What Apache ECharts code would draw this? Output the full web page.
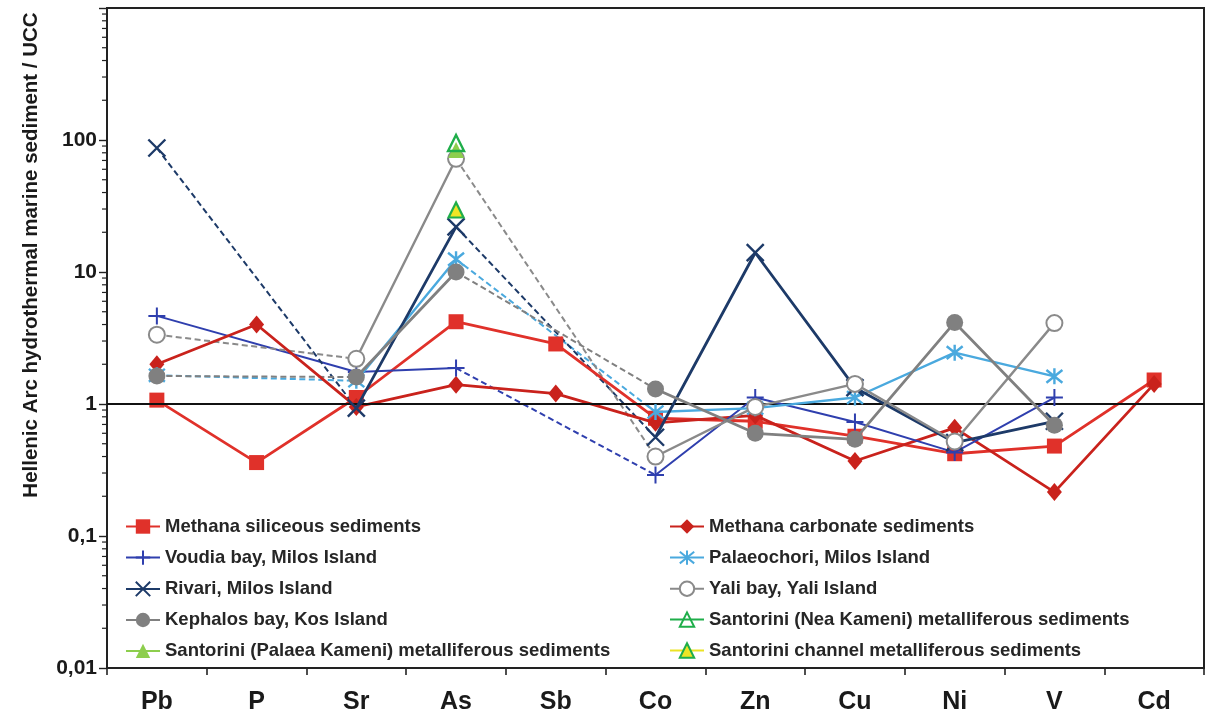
<!DOCTYPE html>
<html>
<head>
<meta charset="utf-8">
<script src="https://cdn.jsdelivr.net/npm/echarts@6/dist/echarts.min.js"></script>
<style>
  html, body { margin: 0; padding: 0; background: #fff; }
  #chart { width: 1206px; height: 715px; }
</style>
</head>
<body>
<div id="chart"></div>
<script>
// Elements normalised to upper continental crust (UCC)
const elements = ['Pb', 'P', 'Sr', 'As', 'Sb', 'Co', 'Zn', 'Cu', 'Ni', 'V', 'Cd'];

const methanaSiliceous = [1.07, 0.36, 1.12, 4.2, 2.85, 0.78, 0.74, 0.57, 0.42, 0.48, 1.52];
const methanaCarbonate = [2.0, 4.0, 0.95, 1.4, 1.2, 0.72, 0.82, 0.37, 0.66, 0.215, 1.42];
const voudiaBay        = [4.65, null, 1.75, 1.87, null, 0.29, 1.12, 0.73, 0.43, 1.12, null];
const palaeochori      = [1.65, null, 1.5, 12.5, null, 0.87, 0.93, 1.12, 2.45, 1.62, null];
const rivari           = [87, null, 0.93, 22, null, 0.56, 14, 1.33, 0.51, 0.74, null];
const yaliBay          = [3.35, null, 2.2, 72, null, 0.40, 0.95, 1.42, 0.52, 4.1, null];
const kephalosBay      = [1.63, null, 1.6, 10, null, 1.3, 0.6, 0.54, 4.15, 0.69, null];
const neaKameni        = [null, null, null, 95, null, null, null, null, null, null, null];
const palaeaKameni     = [null, null, null, 84, null, null, null, null, null, null, null];
const santoriniChannel = [null, null, null, 29.5, null, null, null, null, null, null, null];

// Legend columns
const legendLeft  = ['Methana siliceous sediments', 'Voudia bay, Milos Island', 'Rivari, Milos Island',
                     'Kephalos bay, Kos Island', 'Santorini (Palaea Kameni) metalliferous sediments'];
const legendRight = ['Methana carbonate sediments', 'Palaeochori, Milos Island', 'Yali bay, Yali Island',
                     'Santorini (Nea Kameni) metalliferous sediments', 'Santorini channel metalliferous sediments'];

// Minor ticks of the log axis (2..9 within each decade)
const minorTicks = [];
for (let e = -2; e <= 2; e++) {
  for (let m = 2; m <= 9; m++) minorTicks.push(m * Math.pow(10, e));
}

const FONT = 'Liberation Sans, Arial, sans-serif';
const SYM_PLUS = 'path://M8,0V16M0,8H16';
const SYM_X = 'path://M0,0L16,16M16,0L0,16';
const SYM_STAR = 'path://M0,0L16,16M16,0L0,16M8,-2V18';

const defs = [
  { name: legendLeft[0], data: methanaSiliceous, color: '#e0312a', width: 2.8,
    symbol: 'rect', size: 15, item: { color: '#e0312a' } },
  { name: legendRight[0], data: methanaCarbonate, color: '#c9221c', width: 2.8,
    symbol: 'diamond', size: [15, 18], item: { color: '#c9221c' } },
  { name: legendLeft[1], data: voudiaBay, color: '#2f3fae', width: 2,
    symbol: SYM_PLUS, size: 17, item: { color: 'none', borderColor: '#2f3fae', borderWidth: 2 },
    solidGaps: ['P'] },
  { name: legendRight[1], data: palaeochori, color: '#4aa9de', width: 2.4,
    symbol: SYM_STAR, size: 16, item: { color: 'none', borderColor: '#4aa9de', borderWidth: 2.4 } },
  { name: legendLeft[2], data: rivari, color: '#1d3a68', width: 2.8,
    symbol: SYM_X, size: 17, item: { color: 'none', borderColor: '#1d3a68', borderWidth: 2.4 } },
  { name: legendRight[2], data: yaliBay, color: '#8a8a8a', width: 2.4,
    symbol: 'circle', size: 16, item: { color: '#ffffff', borderColor: '#8a8a8a', borderWidth: 2 } },
  { name: legendLeft[3], data: kephalosBay, color: '#808080', width: 2.8,
    symbol: 'circle', size: 17, item: { color: '#808080' } },
  { name: legendLeft[4], data: palaeaKameni, color: '#8dce4d', width: 2.4,
    symbol: 'triangle', size: 16, item: { color: '#8dce4d' } },
  { name: legendRight[3], data: neaKameni, color: '#1fae4a', width: 2.4,
    symbol: 'triangle', size: 16, item: { color: 'rgba(255,255,255,0)', borderColor: '#1fae4a', borderWidth: 2.4 } },
  { name: legendRight[4], data: santoriniChannel, color: '#ece324', width: 2.4,
    symbol: 'triangle', size: 15, item: { color: '#efe526', borderColor: '#1fae4a', borderWidth: 2.2 } }
];

const series = [];

// Minor ticks on the left axis
series.push({
  type: 'custom',
  silent: true,
  clip: false,
  z: 1,
  data: minorTicks.map(v => [0, v]),
  encode: { x: 0, y: 1 },
  renderItem: (params, api) => {
    const y = api.coord([0, api.value(1)])[1];
    const x = params.coordSys.x;
    return { type: 'line', shape: { x1: x - 5, y1: y, x2: x, y2: y },
             style: { stroke: '#222', lineWidth: 1.2 } };
  }
});

// Connectors across missing elements (dashed unless listed as solid)
defs.forEach(d => {
  const idx = d.data.map((v, i) => v == null ? -1 : i).filter(i => i >= 0);
  for (let k = 0; k < idx.length - 1; k++) {
    const a = idx[k], b = idx[k + 1];
    if (b - a < 2) continue;
    const skipped = elements.slice(a + 1, b);
    const solid = (d.solidGaps || []).some(s => skipped.includes(s));
    const seg = d.data.map((v, i) => (i === a || i === b) ? v : null);
    series.push({
      type: 'line', data: seg, connectNulls: true, symbol: 'none', silent: true, z: 2,
      lineStyle: { color: d.color, width: solid ? d.width : 2, type: solid ? 'solid' : [6, 3.5] },
      emphasis: { disabled: true }
    });
  }
});

// Main series
defs.forEach((d, i) => {
  series.push({
    name: d.name, type: 'line', data: d.data, connectNulls: false,
    symbol: d.symbol, symbolSize: d.size, showAllSymbol: true, z: 3 + i,
    lineStyle: { color: d.color, width: d.width },
    itemStyle: Object.assign({}, d.item),
    emphasis: { disabled: true },
    markLine: i === 0 ? {
      silent: true, symbol: 'none', label: { show: false },
      lineStyle: { color: '#111', width: 1.8, type: 'solid' },
      data: [{ yAxis: 1 }]
    } : undefined
  });
});

const legendText = { fontFamily: FONT, fontWeight: 'bold', fontSize: 18.5, lineHeight: 18, color: '#262626' };

const option = {
  animation: false,
  backgroundColor: '#fff',
  grid: { left: 107, right: 2, top: 8, bottom: 47, show: true, borderColor: '#222', borderWidth: 2,
          containLabel: false, outerBoundsMode: 'none' },
  legend: [
    { data: legendLeft, orient: 'vertical', left: 120, top: 512, itemWidth: 34, itemHeight: 18,
      itemGap: 11.9, textStyle: legendText, selectedMode: false },
    { data: legendRight, orient: 'vertical', left: 664, top: 512, itemWidth: 34, itemHeight: 18,
      itemGap: 11.9, textStyle: legendText, selectedMode: false }
  ],
  xAxis: {
    type: 'category', data: elements, boundaryGap: true,
    axisLine: { lineStyle: { color: '#222', width: 2 } },
    axisTick: { show: true, length: 7, alignWithLabel: false, lineStyle: { color: '#222', width: 1.6 } },
    axisLabel: { fontFamily: FONT, fontWeight: 'bold', fontSize: 25, color: '#1a1a1a', margin: 22 }
  },
  yAxis: {
    type: 'log', logBase: 10, min: 0.01, max: 1000,
    name: 'Hellenic Arc hydrothermal marine sediment / UCC',
    nameLocation: 'middle', nameGap: 65, nameRotate: 90,
    nameTextStyle: { fontFamily: FONT, fontWeight: 'bold', fontSize: 20.5, color: '#1a1a1a',
                     padding: [0, 0, 0, 166] },
    axisLine: { show: true, lineStyle: { color: '#222', width: 2 } },
    axisTick: { show: true, length: 8, lineStyle: { color: '#222', width: 1.4 } },
    splitLine: { show: false },
    axisLabel: {
      fontFamily: FONT, fontWeight: 'bold', fontSize: 21, color: '#1a1a1a', margin: 10,
      formatter: v => {
        const e = Math.round(Math.log10(v));
        if (e >= 3) return '';
        if (e < 0) return '0,' + '0'.repeat(-e - 1) + '1';
        return String(Math.pow(10, e));
      }
    }
  },
  series: series
};

const chart = echarts.init(document.getElementById('chart'), null, { renderer: 'canvas' });
chart.setOption(option);
</script>
</body>
</html>
